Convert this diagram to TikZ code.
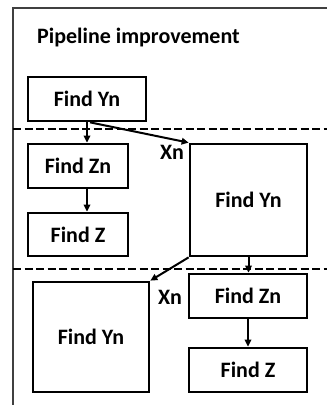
\documentclass[tikz,border=0pt]{standalone}
\usepackage{fontspec}
\setmainfont{Carlito}
\usetikzlibrary{arrows.meta}
\begin{document}
\begin{tikzpicture}[x=1pt,y=-1pt,
  font=\fontsize{22}{26}\selectfont\bfseries,
  stage/.style={draw=black,line width=2.7pt,inner sep=0pt,fill=white},
  flow/.style={line width=2pt,-{Triangle[length=7pt,width=6.5pt]}},
  sep/.style={line width=2.5pt,dash pattern=on 8pt off 3.5pt},
  frameline/.style={draw=black!75,line width=1.2pt}]
\useasboundingbox (0,0) rectangle (327,405);
% slide frame (left and top edges)
\draw[frameline] (13,405) -- (13,8) -- (327,8);
% title
\node[anchor=base west,inner sep=0pt] (title) at (37,43.5) {Pipeline improvement};
% stage separators
\coordinate (s1l) at (13,129);
\coordinate (s1r) at (327,129);
\coordinate (s2l) at (13,269);
\coordinate (s2r) at (327,269);
\draw[sep] (s1l) -- (s1r);
\draw[sep] (s2l) -- (s2r);
% first pipeline column
\node[stage,minimum width=118pt,minimum height=44pt] (A) at (87,99) {Find Yn};
\node[stage,minimum width=100pt,minimum height=44pt] (B) at (78,166) {Find Zn};
\node[stage,minimum width=100pt,minimum height=43pt] (C) at (78,234.5) {Find Z};
% second stage
\node[stage,minimum width=117pt,minimum height=112pt] (D) at (248.5,200) {Find Yn};
\node[stage,minimum width=118pt,minimum height=44pt] (F) at (248,296) {Find Zn};
\node[stage,minimum width=118pt,minimum height=44pt] (G) at (248,370) {Find Z};
% third stage
\node[stage,minimum width=116pt,minimum height=110pt] (E) at (91,337) {Find Yn};
% connectors
\draw[flow] (A.south) -- (A.south |- B.north);
\draw[flow] (B.south -| A.south) -- (A.south |- C.north);
\draw[flow] ([xshift=3pt]A.south) -- (D.north west);
\draw[flow] (D.south) -- (D.south |- F.north);
\draw[flow] (F.south) -- (G.north);
\draw[flow] (D.south west) -- (E.north east);
% labels
\node[inner sep=0pt] (x1) at (172,152) {Xn};
\node[inner sep=0pt] (x2) at (170,297) {Xn};
\end{tikzpicture}
\end{document}
